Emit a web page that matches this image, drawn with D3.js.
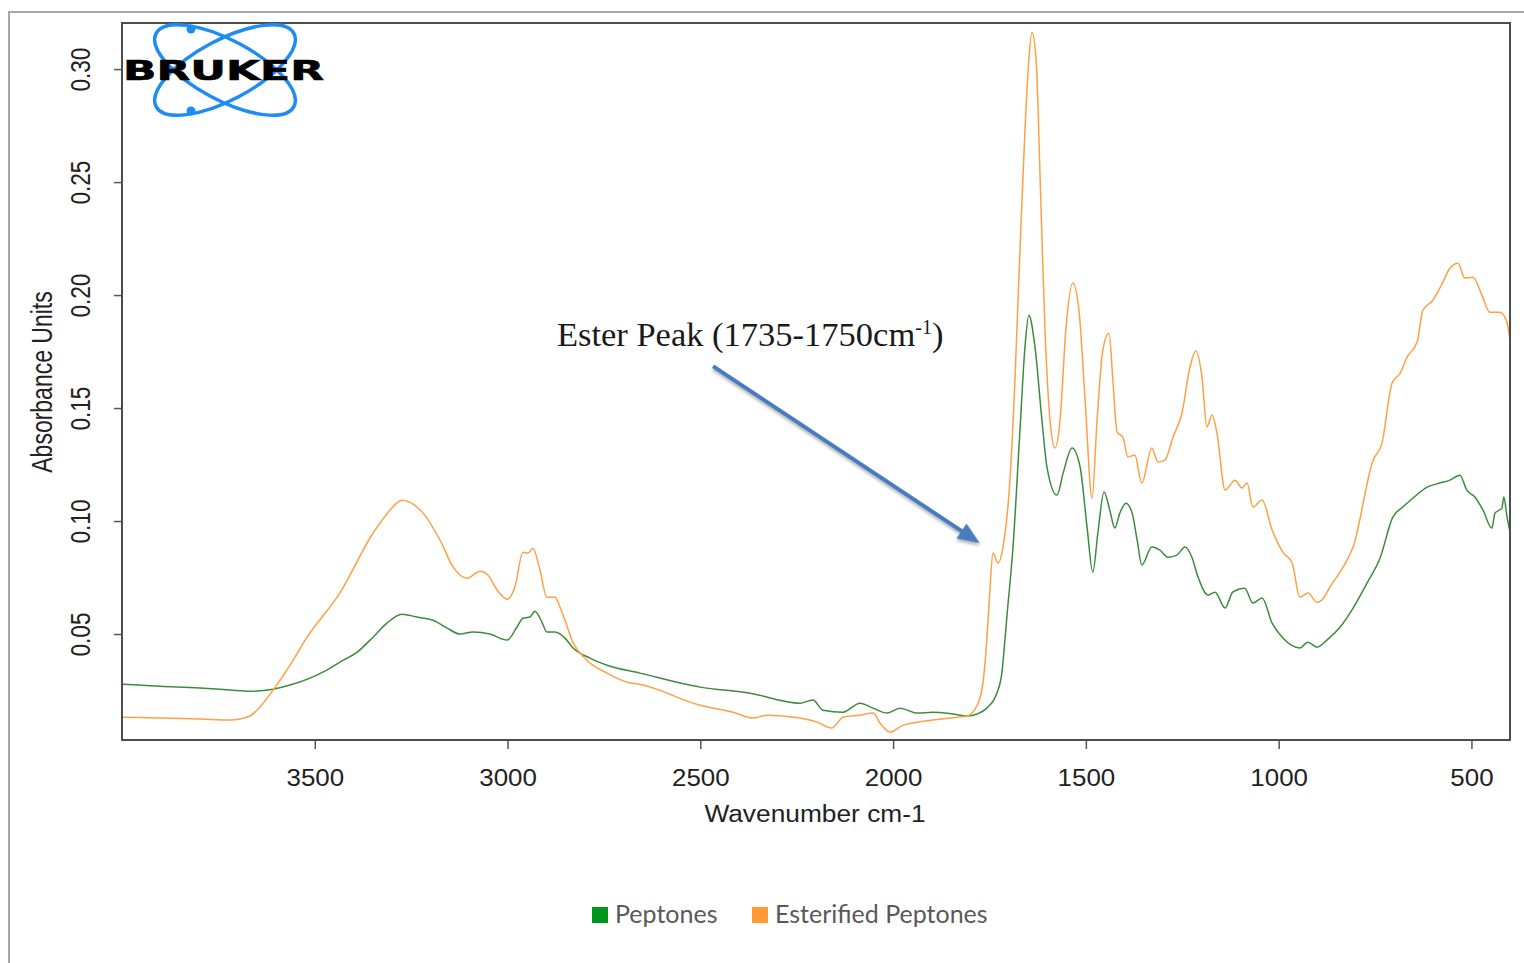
<!DOCTYPE html>
<html>
<head>
<meta charset="utf-8">
<script src="https://cdn.jsdelivr.net/npm/d3@7"></script>
<style>
  body { margin: 0; background: #fff; }
  svg { display: block; }
</style>
</head>
<body>
<script>
// FTIR spectra, absorbance vs wavenumber (cm-1)
var wnEster = [
  4000, 3901, 3798, 3720, 3668, 3650, 3608, 3564, 3520, 3435,
  3349, 3305, 3274, 3219, 3175, 3141, 3105, 3071, 3051, 3027,
  3001, 2981, 2960, 2947, 2934, 2916, 2898, 2877, 2864, 2851,
  2833, 2794, 2742, 2690, 2657, 2501, 2415, 2363, 2327, 2242,
  2197, 2159, 2130, 2086, 2052, 2034, 2008, 1974, 1938, 1897,
  1834, 1808, 1782, 1767, 1757, 1749, 1741, 1728, 1715, 1697,
  1684, 1671, 1658, 1648, 1640, 1629, 1617, 1606, 1593, 1580,
  1567, 1552, 1534, 1518, 1502, 1484, 1471, 1456, 1440, 1430,
  1419, 1404, 1391, 1373, 1355, 1329, 1313, 1295, 1274, 1251,
  1230, 1215, 1199, 1186, 1173, 1160, 1139, 1113, 1095, 1082,
  1067, 1043, 1017, 989, 965, 945, 924, 901, 888, 867,
  833, 807, 755, 732, 706, 685, 667, 641, 626, 600,
  574, 556, 535, 517, 496, 473, 452, 426, 408, 400
];
var absEster = [
  0.0132, 0.0128, 0.0124, 0.0119, 0.0137, 0.0163, 0.0252, 0.0362, 0.0486, 0.0681,
  0.0946, 0.1048, 0.1092, 0.1035, 0.0915, 0.0796, 0.0747, 0.0778, 0.0761, 0.0694,
  0.0654, 0.0708, 0.0862, 0.0858, 0.0880, 0.0783, 0.0663, 0.0663, 0.0619, 0.0561,
  0.0473, 0.0384, 0.0327, 0.0287, 0.0278, 0.0185, 0.0154, 0.0128, 0.0141, 0.0128,
  0.0110, 0.0084, 0.0132, 0.0141, 0.0150, 0.0106, 0.0066, 0.0097, 0.0110, 0.0119,
  0.0132, 0.0137, 0.0185, 0.0283, 0.0473, 0.0694, 0.0858, 0.0814, 0.0885, 0.1181,
  0.1623, 0.2199, 0.2730, 0.3039, 0.3163, 0.3039, 0.2420, 0.1845, 0.1446, 0.1323,
  0.1446, 0.1845, 0.2053, 0.1933, 0.1535, 0.1101, 0.1446, 0.1756, 0.1831, 0.1623,
  0.1393, 0.1371, 0.1283, 0.1292, 0.1168, 0.1323, 0.1261, 0.1270, 0.1371, 0.1477,
  0.1681, 0.1752, 0.1637, 0.1416, 0.1469, 0.1389, 0.1137, 0.1181, 0.1146, 0.1168,
  0.1062, 0.1093, 0.0960, 0.0862, 0.0814, 0.0663, 0.0681, 0.0641, 0.0650, 0.0708,
  0.0796, 0.0885, 0.1269, 0.1345, 0.1610, 0.1654, 0.1725, 0.1792, 0.1933, 0.1977,
  0.2057, 0.2119, 0.2141, 0.2075, 0.2079, 0.2000, 0.1924, 0.1924, 0.1880, 0.1800
];

var wnPept = [
  4000, 3901, 3798, 3720, 3668, 3608, 3564, 3479, 3435, 3390,
  3349, 3313, 3274, 3235, 3193, 3157, 3123, 3090, 3046, 3001,
  2976, 2960, 2942, 2929, 2911, 2898, 2877, 2851, 2830, 2786,
  2742, 2657, 2501, 2371, 2242, 2208, 2182, 2130, 2086, 2052,
  2016, 1982, 1938, 1897, 1845, 1808, 1782, 1757, 1731, 1718,
  1710, 1705, 1689, 1671, 1658, 1648, 1632, 1614, 1601, 1575,
  1559, 1536, 1515, 1497, 1482, 1469, 1453, 1438, 1425, 1412,
  1396, 1380, 1367, 1355, 1329, 1308, 1287, 1264, 1243, 1225,
  1209, 1183, 1165, 1139, 1119, 1088, 1067, 1043, 1017, 989,
  945, 924, 901, 875, 841, 807, 771, 737, 704, 678,
  652, 615, 582, 556, 530, 512, 491, 470, 447, 439,
  421, 416, 408, 400
];
var absPept = [
  0.0278, 0.0269, 0.0261, 0.0252, 0.0247, 0.0256, 0.0274, 0.0331, 0.0376, 0.0420,
  0.0486, 0.0548, 0.0588, 0.0575, 0.0561, 0.0526, 0.0500, 0.0509, 0.0500, 0.0473,
  0.0530, 0.0570, 0.0575, 0.0601, 0.0553, 0.0509, 0.0509, 0.0482, 0.0438, 0.0393,
  0.0362, 0.0327, 0.0265, 0.0238, 0.0194, 0.0208, 0.0163, 0.0154, 0.0194, 0.0172,
  0.0150, 0.0172, 0.0150, 0.0154, 0.0146, 0.0137, 0.0146, 0.0172, 0.0238, 0.0327,
  0.0473, 0.0575, 0.0885, 0.1402, 0.1770, 0.1911, 0.1770, 0.1446, 0.1239, 0.1115,
  0.1212, 0.1323, 0.1239, 0.0973, 0.0774, 0.0946, 0.1128, 0.1048, 0.0969, 0.1035,
  0.1079, 0.1035, 0.0915, 0.0805, 0.0885, 0.0871, 0.0840, 0.0849, 0.0885, 0.0840,
  0.0752, 0.0672, 0.0685, 0.0615, 0.0685, 0.0703, 0.0637, 0.0659, 0.0548, 0.0482,
  0.0438, 0.0464, 0.0442, 0.0473, 0.0530, 0.0615, 0.0725, 0.0836, 0.1017, 0.1062,
  0.1101, 0.1150, 0.1168, 0.1181, 0.1203, 0.1137, 0.1106, 0.1048, 0.0969, 0.1035,
  0.1057, 0.1106, 0.1022, 0.0951
];

var xTicks = [3500, 3000, 2500, 2000, 1500, 1000, 500];
var yTicks = [0.05, 0.10, 0.15, 0.20, 0.25, 0.30];
var seriesNames = ['Peptones', 'Esterified Peptones'];

(function() {

    var W = 1524, H = 963;
    var plotL = 122, plotR = 1510, plotT = 23, plotB = 740;

    var svg = d3.select('body').append('svg')
        .attr('width', W)
        .attr('height', H);

    var defs = svg.append('defs');
    var shadow = defs.append('filter').attr('id', 'shadow')
        .attr('x', '-20%').attr('y', '-20%').attr('width', '140%').attr('height', '140%');
    shadow.append('feDropShadow')
        .attr('dx', 1.5).attr('dy', 2).attr('stdDeviation', 1.5)
        .attr('flood-color', '#000').attr('flood-opacity', 0.3);

    // outer page frame (left and top edges only)
    svg.append('path')
        .attr('d', 'M9,963 L9,12 L1524,12')
        .attr('fill', 'none')
        .attr('stroke', '#a6a6a6')
        .attr('stroke-width', 2);

    var x = d3.scaleLinear().domain([4000, 400]).range([plotL, plotR]);
    var y = d3.scaleLinear().domain([0.0031, 0.3204]).range([plotB, plotT]);

    // axes
    var xAxis = svg.append('g')
        .attr('transform', 'translate(0,' + plotB + ')')
        .call(d3.axisBottom(x).tickValues(xTicks).tickSize(9).tickPadding(20).tickFormat(d3.format('d')));
    xAxis.select('.domain').remove();
    xAxis.selectAll('line').attr('stroke', '#555').attr('stroke-width', 1.5);
    xAxis.selectAll('text')
        .attr('font-family', 'Liberation Sans, Arial, sans-serif')
        .attr('font-size', 24)
        .attr('fill', '#222')
        .attr('transform', 'scale(1.08,1)');

    var yAxis = svg.append('g')
        .attr('transform', 'translate(' + plotL + ',0)')
        .call(d3.axisLeft(y).tickValues(yTicks).tickSize(8).tickFormat(d3.format('.2f')));
    yAxis.select('.domain').remove();
    yAxis.selectAll('line').attr('stroke', '#555').attr('stroke-width', 1.5);
    yAxis.selectAll('text')
        .attr('x', 0).attr('y', 0).attr('dy', 0)
        .attr('text-anchor', 'middle')
        .attr('font-family', 'Liberation Sans, Arial, sans-serif')
        .attr('font-size', 22.6)
        .attr('fill', '#222')
        .attr('transform', 'translate(-32,0) rotate(-90) scale(1,1.22)');

    // axis titles
    svg.append('text')
        .attr('transform', 'translate(815,822) scale(1.12,1)')
        .attr('text-anchor', 'middle')
        .attr('font-family', 'Liberation Sans, Arial, sans-serif')
        .attr('font-size', 23.5)
        .attr('fill', '#222')
        .text('Wavenumber cm-1');

    svg.append('text')
        .attr('transform', 'translate(52,382) rotate(-90) scale(1,1.25)')
        .attr('text-anchor', 'middle')
        .attr('font-family', 'Liberation Sans, Arial, sans-serif')
        .attr('font-size', 23)
        .attr('fill', '#222')
        .text('Absorbance Units');

    // spectra
    var line = d3.line()
        .x(function(d) { return x(d[0]); })
        .y(function(d) { return y(d[1]); })
        .curve(d3.curveMonotoneX);

    var plot = svg.append('g');
    plot.append('path')
        .datum(d3.zip(wnPept, absPept))
        .attr('d', line)
        .attr('fill', 'none')
        .attr('stroke', '#3c8c3c')
        .attr('stroke-width', 1.5);
    plot.append('path')
        .datum(d3.zip(wnEster, absEster))
        .attr('d', line)
        .attr('fill', 'none')
        .attr('stroke', '#ffa043')
        .attr('stroke-width', 1.5);

    // plot frame
    svg.append('rect')
        .attr('x', plotL).attr('y', plotT)
        .attr('width', plotR - plotL).attr('height', plotB - plotT)
        .attr('fill', 'none')
        .attr('stroke', '#4d4d4d')
        .attr('stroke-width', 2);

    // annotation for the ester carbonyl band
    var note = svg.append('text')
        .attr('x', x(2872)).attr('y', y(0.1774))
        .attr('font-family', 'Liberation Serif, Times New Roman, serif')
        .attr('font-size', 34.5)
        .attr('fill', '#1a1a1a');
    note.append('tspan').text('Ester Peak (1735-1750cm');
    note.append('tspan').attr('font-size', 20).attr('dy', -12).text('-1');
    note.append('tspan').attr('dy', 12).text(')');

    var ax0 = x(2467), ay0 = y(0.1685), ax1 = x(1775), ay1 = y(0.0902);
    var ang = Math.atan2(ay1 - ay0, ax1 - ax0);
    var len = Math.hypot(ax1 - ax0, ay1 - ay0);
    var headL = 22, headW = 9, shaft = 2;
    var arrowPts = [[0, -shaft], [len - headL, -shaft], [len - headL, -headW], [len, 0],
                    [len - headL, headW], [len - headL, shaft], [0, shaft]];
    svg.append('path')
        .attr('d', 'M' + arrowPts.map(function(p) { return p.join(','); }).join('L') + 'Z')
        .attr('transform', 'translate(' + ax0 + ',' + ay0 + ') rotate(' + (ang * 180 / Math.PI) + ')')
        .attr('fill', '#4a7cbf')
        .attr('filter', 'url(#shadow)');

    // Bruker logo
    var logo = svg.append('g');
    [28, -28].forEach(function(a) {
        logo.append('ellipse')
            .attr('cx', 225).attr('cy', 70)
            .attr('rx', 78).attr('ry', 30)
            .attr('transform', 'rotate(' + a + ',225,70)')
            .attr('fill', 'none')
            .attr('stroke', '#1e8cf5')
            .attr('stroke-width', 3.5);
    });
    logo.append('circle').attr('cx', 191).attr('cy', 29).attr('r', 4.5).attr('fill', '#1e8cf5');
    logo.append('circle').attr('cx', 191).attr('cy', 111).attr('r', 4.5).attr('fill', '#1e8cf5');
    logo.append('text')
        .attr('x', 123).attr('y', 80)
        .attr('textLength', 201)
        .attr('lengthAdjust', 'spacingAndGlyphs')
        .attr('font-family', 'DejaVu Sans, sans-serif')
        .attr('font-weight', 'bold')
        .attr('font-size', 26)
        .attr('stroke', '#000')
        .attr('stroke-width', 0.6)
        .attr('fill', '#000')
        .text('BRUKER');

    // legend
    var legendColors = ['#00961e', '#ff9933'];
    var legendX = [592, 752];
    var legend = svg.append('g');
    seriesNames.forEach(function(name, i) {
        legend.append('rect')
            .attr('x', legendX[i]).attr('y', 907)
            .attr('width', 16).attr('height', 16)
            .attr('fill', legendColors[i]);
        legend.append('text')
            .attr('x', legendX[i] + 23).attr('y', 923)
            .attr('font-family', 'Lato, Carlito, sans-serif')
            .attr('font-size', 25)
            .attr('fill', '#595959')
            .text(name);
    });

})();
</script>
</body>
</html>
